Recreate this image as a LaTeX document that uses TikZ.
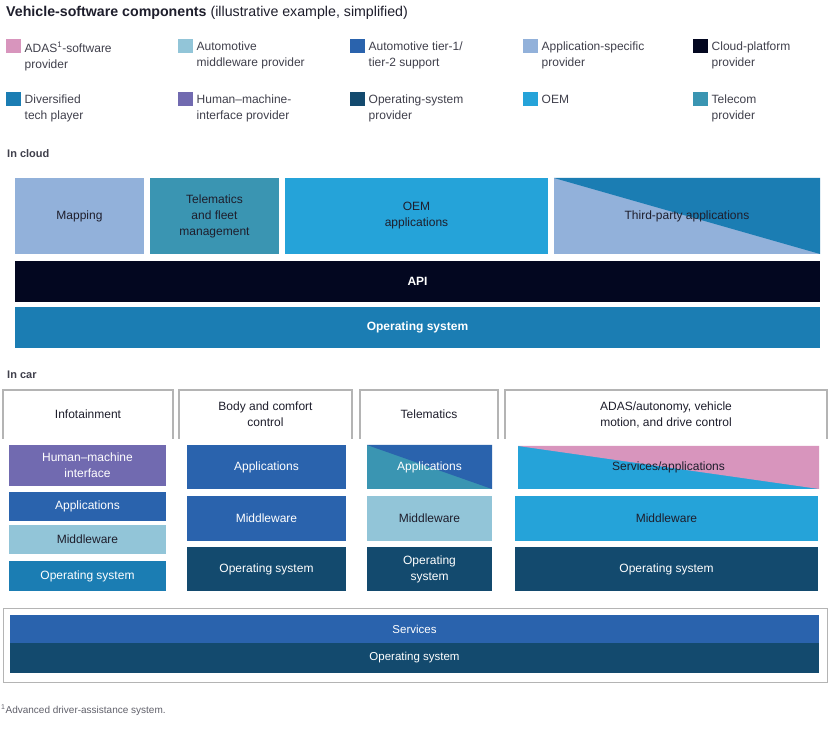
\documentclass[tikz,border=0pt]{standalone}
\usepackage{fontspec}
\setmainfont{Liberation Sans}

\definecolor{ink}{HTML}{1E1E2C}
\definecolor{rulegray}{HTML}{B4B4B4}
\definecolor{adas}{HTML}{D895BD}
\definecolor{automid}{HTML}{92C5D8}
\definecolor{tierone}{HTML}{2A63AD}
\definecolor{appspec}{HTML}{92B1DA}
\definecolor{cloudplat}{HTML}{030720}
\definecolor{divtech}{HTML}{1B7DB3}
\definecolor{hmi}{HTML}{716AB0}
\definecolor{ossys}{HTML}{134A6E}
\definecolor{oem}{HTML}{25A3D9}
\definecolor{telecom}{HTML}{3A95B2}

\tikzset{
  blk/.style={inner sep=0pt, outer sep=0pt, align=center, text=ink,
    font=\fontsize{12}{16}\selectfont},
  wblk/.style={blk, text=white},
  split/.style 2 args={fill=#1, path picture={
    \fill[#2] (path picture bounding box.north west) -- (path picture bounding box.north east)
      -- (path picture bounding box.south east) -- cycle;}},
  swatch/.style={minimum width=15pt, minimum height=14pt, inner sep=0pt, anchor=north west},
  legtxt/.style={anchor=north west, inner sep=0pt, align=left, text=ink!85,
    font=\fontsize{12}{16}\selectfont},
  hdr/.style={draw=rulegray, line width=1.2pt},
  sect/.style={anchor=west, inner sep=0pt, text=ink!85, font=\fontsize{11}{13}\selectfont\bfseries},
}

\begin{document}
\begin{tikzpicture}[x=1pt,y=-1pt]
  \useasboundingbox[fill=white] (0,0) rectangle (836,751);

  % title and legend
  \node[anchor=west, inner sep=0pt, text=ink, font=\fontsize{14.2}{16}\selectfont] (title) at (6,12.5)
    {\textbf{Vehicle-software components} (illustrative example, simplified)};
  \foreach \c/\x/\y/\t [count=\i] in {
      adas/6/39/{ADAS\textsuperscript{1}-software\\provider},
      automid/178/39/{Automotive\\middleware provider},
      tierone/350/39/{Automotive tier-1/\\tier-2 support},
      appspec/523/39/{Application-specific\\provider},
      cloudplat/693/39/{Cloud-platform\\provider},
      divtech/6/92/{Diversified\\tech player},
      hmi/178/92/{Human--machine-\\interface provider},
      ossys/350/92/{Operating-system\\provider},
      oem/523/92/{OEM},
      telecom/693/92/{Telecom\\provider}}
  {
    \node[swatch, fill=\c] (sw\i) at (\x,\y) {};
    \node[legtxt] (lg\i) at (\x+18.5,\y+3) {\t};
  }

  % in cloud
  \node[sect] (incloud) at (7,154) {In cloud};
  \node[blk, fill=appspec, minimum width=129pt, minimum height=76pt] (mapping) at (79.5,216) {Mapping};
  \node[blk, fill=telecom, minimum width=129pt, minimum height=76pt] (fleet) at (214.5,216) {Telematics\\and fleet\\management};
  \node[blk, fill=oem, minimum width=263pt, minimum height=76pt] (oemapps) at (416.5,216) {OEM\\applications};
  \node[blk, split={appspec}{divtech}, minimum width=266pt, minimum height=76pt] (thirdparty) at (687,216) {Third-party applications};
  \node[wblk, fill=cloudplat, minimum width=805pt, minimum height=41pt, font=\fontsize{12}{16}\selectfont\bfseries] (api) at (417.5,281.5) {API};
  \node[wblk, fill=divtech, minimum width=805pt, minimum height=41pt, font=\fontsize{12}{16}\selectfont\bfseries] (cloudos) at (417.5,327.5) {Operating system};

  % in car
  \node[sect] (incar) at (7,375) {In car};
  \node[blk, minimum width=170pt, minimum height=49pt] (hinfo) at (88,414.5) {Infotainment};
  \node[blk, minimum width=173pt, minimum height=49pt] (hbody) at (265.5,414.5) {Body and comfort\\control};
  \node[blk, minimum width=138pt, minimum height=49pt] (htele) at (429,414.5) {Telematics};
  \node[blk, minimum width=322pt, minimum height=49pt] (hadas) at (666,414.5) {ADAS/autonomy, vehicle\\motion, and drive control};
  \foreach \h in {hinfo,hbody,htele,hadas}
    \draw[hdr] (\h.south west) |- (\h.north east) -- (\h.south east);

  \node[wblk, fill=hmi, minimum width=157pt, minimum height=41pt] (infohmi) at (87.5,465.5) {Human--machine\\interface};
  \node[wblk, fill=tierone, minimum width=157pt, minimum height=29pt] (infoapps) at (87.5,506.5) {Applications};
  \node[blk, fill=automid, minimum width=157pt, minimum height=29pt] (infomid) at (87.5,539.5) {Middleware};
  \node[wblk, fill=divtech, minimum width=157pt, minimum height=30pt] (infoos) at (87.5,576) {Operating system};

  \node[wblk, fill=tierone, minimum width=159pt, minimum height=44pt] (bodyapps) at (266.5,467) {Applications};
  \node[wblk, fill=tierone, minimum width=159pt, minimum height=45pt] (bodymid) at (266.5,518.5) {Middleware};
  \node[wblk, fill=ossys, minimum width=159pt, minimum height=44pt] (bodyos) at (266.5,569) {Operating system};

  \node[wblk, split={telecom}{tierone}, minimum width=125pt, minimum height=44pt] (teleapps) at (429.5,467) {Applications};
  \node[blk, fill=automid, minimum width=125pt, minimum height=45pt] (telemid) at (429.5,518.5) {Middleware};
  \node[wblk, fill=ossys, minimum width=125pt, minimum height=44pt] (teleos) at (429.5,569) {Operating\\system};

  \node[blk, split={oem}{adas}, minimum width=301pt, minimum height=43pt] (adasapps) at (668.5,467.5) {Services/applications};
  \node[blk, fill=oem, minimum width=303pt, minimum height=45pt] (adasmid) at (666.5,518.5) {Middleware};
  \node[wblk, fill=ossys, minimum width=303pt, minimum height=44pt] (adasos) at (666.5,569) {Operating system};

  % shared base
  \node[draw=rulegray, line width=1pt, minimum width=824pt, minimum height=74pt, inner sep=0pt] (base) at (415,645) {};
  \node[wblk, fill=tierone, minimum width=809pt, minimum height=28pt, font=\fontsize{11.5}{14}\selectfont] (services) at (414.5,629) {Services};
  \node[wblk, fill=ossys, minimum width=809pt, minimum height=30pt, font=\fontsize{11.5}{14}\selectfont] (baseos) at (414.5,658) {Operating system};

  \node[anchor=west, inner sep=0pt, text=ink!70, font=\fontsize{10}{12}\selectfont] (note) at (1,710)
    {\textsuperscript{1}Advanced driver-assistance system.};
\end{tikzpicture}
\end{document}
